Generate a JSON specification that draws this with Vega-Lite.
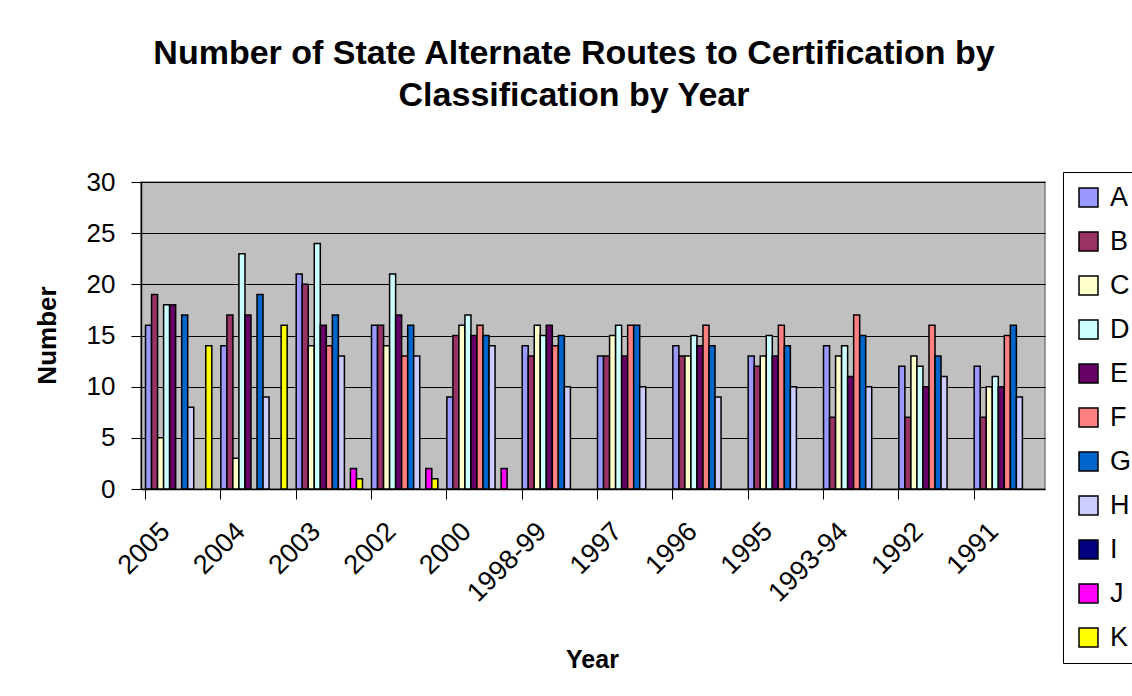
{
  "$schema": "https://vega.github.io/schema/vega-lite/v6.json",
  "width": 904,
  "height": 307,
  "autosize": {"type": "none"},
  "padding": {"left": 141, "top": 182, "right": 87, "bottom": 207},
  "background": "white",
  "title": {
    "text": ["Number of State Alternate Routes to Certification by", "Classification by Year"],
    "font": "Liberation Sans",
    "fontSize": 34,
    "fontWeight": "bold",
    "lineHeight": 42,
    "color": "black",
    "anchor": "middle",
    "dx": -19,
    "offset": 56
  },
  "data": {
    "values": [
      {"year": "2005", "cls": "A", "n": 16}, {"year": "2005", "cls": "B", "n": 19}, {"year": "2005", "cls": "C", "n": 5}, {"year": "2005", "cls": "D", "n": 18}, {"year": "2005", "cls": "E", "n": 18}, {"year": "2005", "cls": "G", "n": 17}, {"year": "2005", "cls": "H", "n": 8}, {"year": "2005", "cls": "K", "n": 14},
      {"year": "2004", "cls": "A", "n": 14}, {"year": "2004", "cls": "B", "n": 17}, {"year": "2004", "cls": "C", "n": 3}, {"year": "2004", "cls": "D", "n": 23}, {"year": "2004", "cls": "E", "n": 17}, {"year": "2004", "cls": "G", "n": 19}, {"year": "2004", "cls": "H", "n": 9}, {"year": "2004", "cls": "K", "n": 16},
      {"year": "2003", "cls": "A", "n": 21}, {"year": "2003", "cls": "B", "n": 20}, {"year": "2003", "cls": "C", "n": 14}, {"year": "2003", "cls": "D", "n": 24}, {"year": "2003", "cls": "E", "n": 16}, {"year": "2003", "cls": "F", "n": 14}, {"year": "2003", "cls": "G", "n": 17}, {"year": "2003", "cls": "H", "n": 13}, {"year": "2003", "cls": "J", "n": 2}, {"year": "2003", "cls": "K", "n": 1},
      {"year": "2002", "cls": "A", "n": 16}, {"year": "2002", "cls": "B", "n": 16}, {"year": "2002", "cls": "C", "n": 14}, {"year": "2002", "cls": "D", "n": 21}, {"year": "2002", "cls": "E", "n": 17}, {"year": "2002", "cls": "F", "n": 13}, {"year": "2002", "cls": "G", "n": 16}, {"year": "2002", "cls": "H", "n": 13}, {"year": "2002", "cls": "J", "n": 2}, {"year": "2002", "cls": "K", "n": 1},
      {"year": "2000", "cls": "A", "n": 9}, {"year": "2000", "cls": "B", "n": 15}, {"year": "2000", "cls": "C", "n": 16}, {"year": "2000", "cls": "D", "n": 17}, {"year": "2000", "cls": "E", "n": 15}, {"year": "2000", "cls": "F", "n": 16}, {"year": "2000", "cls": "G", "n": 15}, {"year": "2000", "cls": "H", "n": 14}, {"year": "2000", "cls": "J", "n": 2},
      {"year": "1998-99", "cls": "A", "n": 14}, {"year": "1998-99", "cls": "B", "n": 13}, {"year": "1998-99", "cls": "C", "n": 16}, {"year": "1998-99", "cls": "D", "n": 15}, {"year": "1998-99", "cls": "E", "n": 16}, {"year": "1998-99", "cls": "F", "n": 14}, {"year": "1998-99", "cls": "G", "n": 15}, {"year": "1998-99", "cls": "H", "n": 10},
      {"year": "1997", "cls": "A", "n": 13}, {"year": "1997", "cls": "B", "n": 13}, {"year": "1997", "cls": "C", "n": 15}, {"year": "1997", "cls": "D", "n": 16}, {"year": "1997", "cls": "E", "n": 13}, {"year": "1997", "cls": "F", "n": 16}, {"year": "1997", "cls": "G", "n": 16}, {"year": "1997", "cls": "H", "n": 10},
      {"year": "1996", "cls": "A", "n": 14}, {"year": "1996", "cls": "B", "n": 13}, {"year": "1996", "cls": "C", "n": 13}, {"year": "1996", "cls": "D", "n": 15}, {"year": "1996", "cls": "E", "n": 14}, {"year": "1996", "cls": "F", "n": 16}, {"year": "1996", "cls": "G", "n": 14}, {"year": "1996", "cls": "H", "n": 9},
      {"year": "1995", "cls": "A", "n": 13}, {"year": "1995", "cls": "B", "n": 12}, {"year": "1995", "cls": "C", "n": 13}, {"year": "1995", "cls": "D", "n": 15}, {"year": "1995", "cls": "E", "n": 13}, {"year": "1995", "cls": "F", "n": 16}, {"year": "1995", "cls": "G", "n": 14}, {"year": "1995", "cls": "H", "n": 10},
      {"year": "1993-94", "cls": "A", "n": 14}, {"year": "1993-94", "cls": "B", "n": 7}, {"year": "1993-94", "cls": "C", "n": 13}, {"year": "1993-94", "cls": "D", "n": 14}, {"year": "1993-94", "cls": "E", "n": 11}, {"year": "1993-94", "cls": "F", "n": 17}, {"year": "1993-94", "cls": "G", "n": 15}, {"year": "1993-94", "cls": "H", "n": 10},
      {"year": "1992", "cls": "A", "n": 12}, {"year": "1992", "cls": "B", "n": 7}, {"year": "1992", "cls": "C", "n": 13}, {"year": "1992", "cls": "D", "n": 12}, {"year": "1992", "cls": "E", "n": 10}, {"year": "1992", "cls": "F", "n": 16}, {"year": "1992", "cls": "G", "n": 13}, {"year": "1992", "cls": "H", "n": 11},
      {"year": "1991", "cls": "A", "n": 12}, {"year": "1991", "cls": "B", "n": 7}, {"year": "1991", "cls": "C", "n": 10}, {"year": "1991", "cls": "D", "n": 11}, {"year": "1991", "cls": "E", "n": 10}, {"year": "1991", "cls": "F", "n": 15}, {"year": "1991", "cls": "G", "n": 16}, {"year": "1991", "cls": "H", "n": 9}
    ]
  },
  "mark": {"type": "bar", "stroke": "black", "strokeWidth": 1.5},
  "encoding": {
    "x": {
      "field": "year",
      "type": "nominal",
      "sort": null,
      "scale": {
        "domain": ["2005", "2004", "2003", "2002", "2000", "1998-99", "1997", "1996", "1995", "1993-94", "1992", "1991"],
        "paddingInner": 0.12,
        "paddingOuter": 0.06
      },
      "axis": {
        "title": "Year",
        "titleFont": "Liberation Sans",
        "titleFontSize": 25,
        "titleFontWeight": "bold",
        "titleColor": "black",
        "titleBaseline": "alphabetic",
        "titleY": 178,
        "titleX": 451,
        "labelAngle": -45,
        "labelAlign": "right",
        "labelBaseline": "middle",
        "labelFont": "Liberation Sans",
        "labelFontSize": 27,
        "labelColor": "black",
        "labelPadding": 28,
        "labelOffset": -13,
        "domainColor": "black",
        "tickColor": "black",
        "tickSize": 10,
        "bandPosition": 0,
        "grid": false
      }
    },
    "xOffset": {
      "field": "cls",
      "type": "nominal",
      "scale": {"domain": ["A", "B", "C", "D", "E", "F", "G", "H", "I", "J", "K"], "paddingInner": 0, "paddingOuter": 0}
    },
    "y": {
      "field": "n",
      "type": "quantitative",
      "scale": {"domain": [0, 30], "nice": false},
      "axis": {
        "title": "Number",
        "values": [0, 5, 10, 15, 20, 25, 30],
        "titleFont": "Liberation Sans",
        "titleFontSize": 26,
        "titleFontWeight": "bold",
        "titleColor": "black",
        "titleBaseline": "middle",
        "titleAngle": -90,
        "titleX": -94,
        "titleY": 153,
        "labelFont": "Liberation Sans",
        "labelFontSize": 26,
        "labelColor": "black",
        "labelPadding": 16,
        "tickSize": 10,
        "tickColor": "black",
        "domainColor": "black",
        "grid": true,
        "gridColor": "black",
        "gridOpacity": 1
      }
    },
    "color": {
      "field": "cls",
      "type": "nominal",
      "scale": {
        "domain": ["A", "B", "C", "D", "E", "F", "G", "H", "I", "J", "K"],
        "range": ["#9999FF", "#993366", "#FFFFCC", "#CCFFFF", "#660066", "#FF8080", "#0066CC", "#CCCCFF", "#000080", "#FF00FF", "#FFFF00"]
      },
      "legend": {
        "title": null,
        "orient": "none",
        "legendX": 922,
        "legendY": -10,
        "padding": 12,
        "strokeColor": "black",
        "fillColor": "white",
        "symbolType": "square",
        "symbolSize": 360,
        "symbolStrokeColor": "black",
        "symbolStrokeWidth": 1.5,
        "symbolOpacity": 1,
        "labelFont": "Liberation Sans",
        "labelFontSize": 27,
        "labelColor": "black",
        "labelOffset": 8,
        "rowPadding": 16
      }
    }
  },
  "config": {
    "view": {"fill": "#C0C0C0", "stroke": "#808080", "strokeWidth": 1.5},
    "axis": {"gridWidth": 1, "domainWidth": 1.5, "tickWidth": 1}
  }
}
